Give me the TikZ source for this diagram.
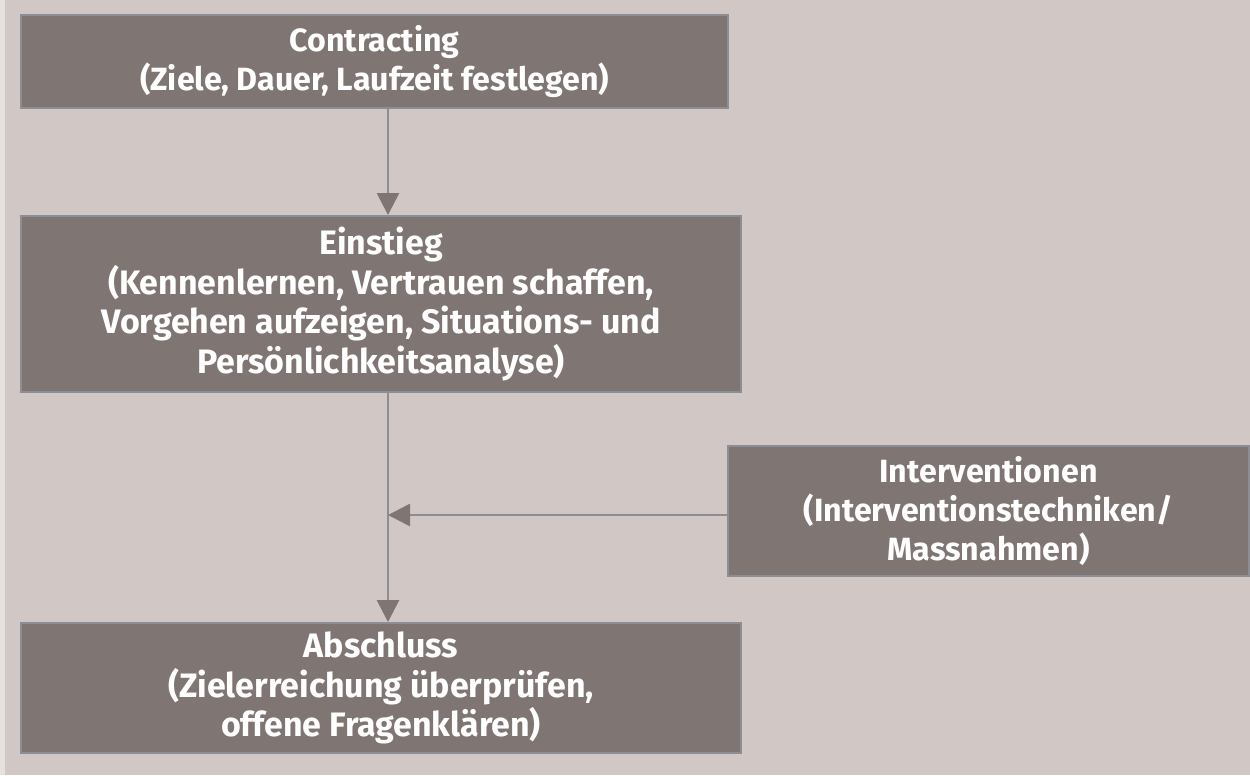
\documentclass[tikz,border=0pt]{standalone}
\usepackage{fontspec}
\setmainfont{Fira Sans}
\usetikzlibrary{arrows.meta}
\definecolor{bgback}{HTML}{D1C8C5}
\definecolor{boxfill}{HTML}{7F7673}
\definecolor{edgegray}{HTML}{8D8D95}
\begin{document}
\begin{tikzpicture}[x=0.02cm,y=-0.02cm,
  phase/.style={draw=edgegray,line width=0.04cm,fill=boxfill,text=white,align=center,
    font=\fontsize{18.3}{22}\selectfont\bfseries,inner sep=0pt},
  bigphase/.style={phase,font=\fontsize{19.3}{22.5}\selectfont\bfseries},
  flow/.style={draw=edgegray,line width=0.055cm,
    -{Triangle[length=0.44cm,width=0.44cm,color=boxfill]}}]
  \fill[bgback] (0,0) rectangle (1250,775);
  \fill[bgback!55!white] (0,0) rectangle (5,775);
  \node[phase,minimum width=14.14cm,minimum height=1.86cm] (contracting) at (374.5,61.5)
    {Contracting\\(Ziele, Dauer, Laufzeit festlegen)};
  \node[bigphase,minimum width=14.4cm,minimum height=3.52cm] (einstieg) at (381,304)
    {Einstieg\\(Kennenlernen, Vertrauen schaffen,\\Vorgehen aufzeigen, Situations- und\\Persönlichkeitsanalyse)};
  \node[phase,minimum width=10.42cm,minimum height=2.6cm] (interv) at (988.5,511)
    {Interventionen\\(Interventionstechniken/\\Massnahmen)};
  \node[bigphase,minimum width=14.4cm,minimum height=2.6cm] (abschluss) at (381,688)
    {Abschluss\\(Zielerreichung überprüfen,\\offene Fragenklären)};
  \coordinate (spine) at (388,0);
  \coordinate (join) at (388,515);
  \draw[flow] (contracting.south -| spine) -- (einstieg.north -| spine);
  \draw[flow] (einstieg.south -| spine) -- (abschluss.north -| spine);
  \draw[flow] (interv.west |- join) -- (join);
\end{tikzpicture}
\end{document}
